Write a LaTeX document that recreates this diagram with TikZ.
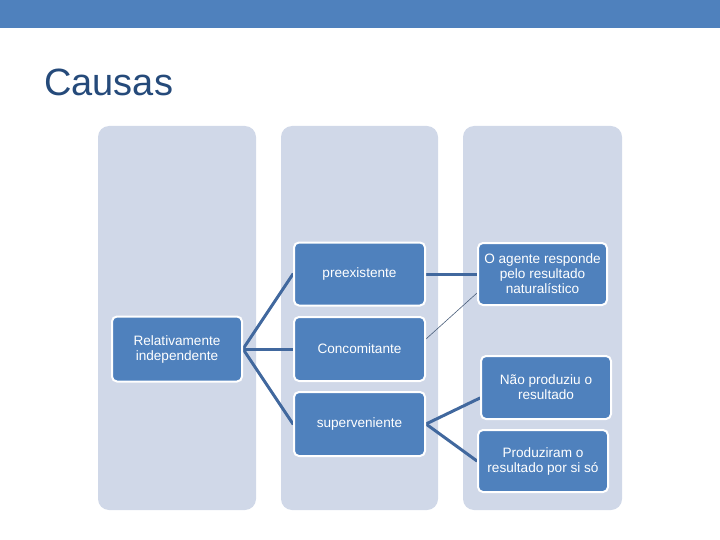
\documentclass[tikz,border=0pt]{standalone}
\usepackage{fontspec}
\setmainfont{Liberation Sans}
\usetikzlibrary{calc}
\pgfdeclarelayer{back}
\pgfdeclarelayer{mid}
\pgfsetlayers{back,mid,main}
\definecolor{barblue}{HTML}{4F81BD}
\definecolor{titleblue}{HTML}{254A7A}
\definecolor{colbg}{HTML}{D0D8E8}
\definecolor{boxblue}{HTML}{4F81BD}
\definecolor{linkblue}{HTML}{41689E}
\definecolor{thinlink}{HTML}{4A5E7A}
\tikzset{
  colbox/.style={fill=colbg, rounded corners=11pt},
  itembox/.style={fill=boxblue, draw=white, line width=2pt, rounded corners=5pt,
    text=white, align=center, inner sep=2pt,
    font=\fontsize{13.6}{15}\selectfont},
  link/.style={draw=linkblue, line width=3pt, line cap=round},
  thin link/.style={draw=thinlink, line width=0.6pt}
}
\begin{document}
\begin{tikzpicture}[x=1pt,y=-1pt]
\useasboundingbox (0,0) rectangle (720,540);
\fill[barblue] (0,0) rectangle (720,28);
\node[anchor=base west, inner sep=0pt, text=titleblue, font=\fontsize{38}{44}\selectfont] (title) at (44,96) {Causas};
% columns
\begin{pgfonlayer}{back}
\fill[colbox] (98,126) rectangle (256,510);
\fill[colbox] (281,126) rectangle (438,510);
\fill[colbox] (463,126) rectangle (622,510);
\end{pgfonlayer}
% nodes
\node[itembox, minimum width=130pt, minimum height=65pt] (rel) at (177,349) {Relativamente\\independente};
\node[itembox, minimum width=131pt, minimum height=63pt] (pre) at (359.5,274) {preexistente};
\node[itembox, minimum width=131pt, minimum height=64pt] (conc) at (359.5,349) {Concomitante};
\node[itembox, minimum width=131pt, minimum height=64pt] (sup) at (359.5,424) {superveniente};
\node[itembox, minimum width=129pt, minimum height=62pt] (oag) at (542.5,274) {O agente responde\\pelo resultado\\naturalístico};
\node[itembox, minimum width=130pt, minimum height=63pt] (nao) at (546,387.5) {Não produziu o\\resultado};
\node[itembox, minimum width=130pt, minimum height=62pt] (prod) at (543,461) {Produziram o\\resultado por si só};
% connectors
\begin{pgfonlayer}{mid}
\draw[link] (rel.east) -- (pre.west);
\draw[link] (rel.east) -- (conc.west);
\draw[link] (rel.east) -- (sup.west);
\draw[link] (pre.east) -- (oag.west);
\draw[link] (sup.east) -- ($(nao.west)+(0,10.5)$);
\draw[link] (sup.east) -- (prod.west);
\draw[thin link] ($(conc.east)+(0,-10)$) -- ($(oag.west)+(0,19)$);
\end{pgfonlayer}
\end{tikzpicture}
\end{document}
